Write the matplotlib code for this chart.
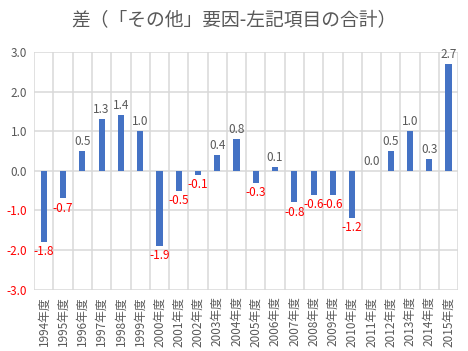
import matplotlib
matplotlib.use("Agg")
import matplotlib.pyplot as plt
import numpy as np

plt.rcParams['font.family'] = ['Noto Sans CJK JP', 'DejaVu Sans']

# 年度と差の値
years = [str(y) + "年度" for y in range(1994, 2016)]
values = [-1.8, -0.7, 0.5, 1.3, 1.4, 1.0, -1.9, -0.5, -0.1, 0.4, 0.8,
          -0.3, 0.1, -0.8, -0.6, -0.6, -1.2, 0.0, 0.5, 1.0, 0.3, 2.7]
yticks = [3.0, 2.0, 1.0, 0.0, -1.0, -2.0, -3.0]

gray = "#595959"
red = "#FF0000"
blue = "#4472C4"

fig = plt.figure(figsize=(4.68, 3.51), dpi=100)
ax = fig.add_axes([0.073, 0.175, 0.906, 0.677])

x = np.arange(len(values))
ax.bar(x, values, width=0.32, color=blue, zorder=3)

# data labels
for xi, v in zip(x, values):
    if v < 0:
        ax.text(xi, v - 0.08, f"{v:.1f}", ha="center", va="top",
                color=red, fontsize=8.5)
    else:
        ax.text(xi, v + 0.08, f"{v:.1f}", ha="center", va="bottom",
                color=gray, fontsize=8.5)

ax.set_xlim(-0.5, len(values) - 0.5)
ax.set_ylim(-3.0, 3.0)
ax.set_yticks(yticks)
ax.set_yticklabels([f"{t:.1f}" for t in yticks], fontsize=8.5)
for lbl, t in zip(ax.get_yticklabels(), yticks):
    lbl.set_color(red if t < 0 else gray)

ax.set_xticks(x)
ax.set_xticklabels(years, rotation=90, fontsize=8.5, color=gray)
ax.set_xticks(np.arange(-0.5, len(values)), minor=True)

ax.grid(True, axis="y", color="#D9D9D9", linewidth=1.1, zorder=0)
ax.grid(True, axis="x", which="minor", color="#D9D9D9", linewidth=1.1, zorder=0)
ax.tick_params(axis="both", which="both", length=0)
ax.tick_params(axis="y", pad=5)
ax.tick_params(axis="x", pad=5)
for s in ["top", "left", "right", "bottom"]:
    ax.spines[s].set_visible(False)

fig.suptitle("差（「その他」要因-左記項目の合計）", fontsize=13.5,
             color=gray, y=0.975)

fig.savefig("out.png", dpi=100)
